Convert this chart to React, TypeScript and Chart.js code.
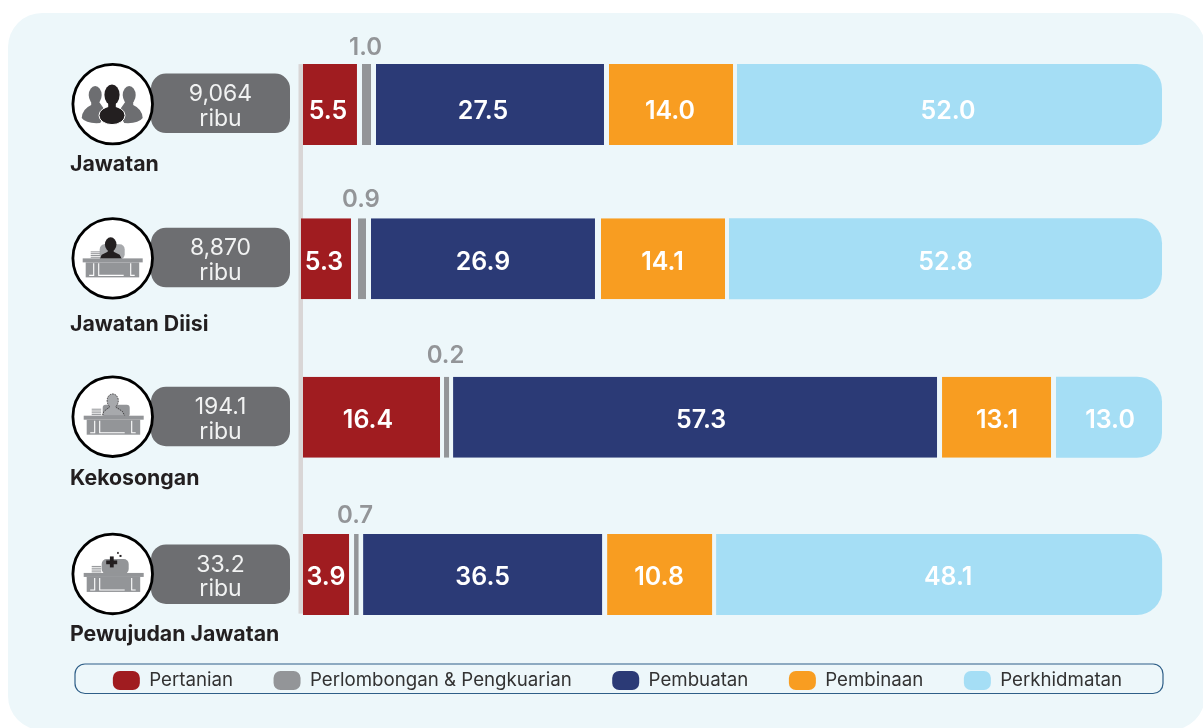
import React, { useEffect, useRef } from "react";
import { Chart, registerables } from "chart.js";

Chart.register(...registerables);

// Printed values, as labelled in the picture.
const rowNames = ["Jawatan", "Jawatan Diisi", "Kekosongan", "Pewujudan Jawatan"];
const rowTotals = ["9,064", "8,870", "194.1", "33.2"];
const rowUnit = "ribu";
const pertanian = ["5.5", "5.3", "16.4", "3.9"];
const perlombongan = ["1.0", "0.9", "0.2", "0.7"];
const pembuatan = ["27.5", "26.9", "57.3", "36.5"];
const pembinaan = ["14.0", "14.1", "13.1", "10.8"];
const perkhidmatan = ["52.0", "52.8", "13.0", "48.1"];

// Segment lengths as drawn in the picture (share of the track, %): the source
// graphic is not strictly proportional to its printed values, so these are
// read off the bars themselves.
const pertanianDrawn = [7.08, 6.62, 16.61, 6.16];
const perlombonganDrawn = [1.63, 1.51, 1.05, 1.05];
const pembuatanDrawn = [27.06, 26.71, 56.79, 28.34];
const pembinaanDrawn = [14.87, 14.87, 13.24, 12.66];
const perkhidmatanDrawn = [49.36, 50.29, 12.31, 51.8];

const seriesNames = ["Pertanian", "Perlombongan & Pengkuarian", "Pembuatan", "Pembinaan", "Perkhidmatan"];
const seriesColors = ["#a01c20", "#939598", "#2b3a76", "#f89d21", "#a5def5"];

// Row slots on the linear row axis (the rows are not quite evenly spaced).
const rowSlots = [0, 0.985, 1.996, 3];

// Styling tables (px).
const rowIndent = [2, 0, 2, 2];
const segmentGaps = [
  [5, 7, 4, 5],
  [5, 5, 4, 5],
  [5, 6, 5, 5],
  [4, 4, 5, 4],
  [0, 0, 0, 0],
];
const labelNudge = [
  [-2, -2, -3.5, 0],
  [0, 0, 0, 0],
  [-7, 0, 6, 0],
  [-1, -0.5, 0.5, -0.5],
  [-1.5, 0, 1, 9],
];
const labelDrop = [7, 3.5, 3, 3];
const overBarLift = [57, 59.5, 61, 58.5];
const nameDrop = [60, 66, 61.5, 60.5];
const pillDrop = [0, 0, 0.5, 1];

const FONT = "Inter, 'Noto Sans', sans-serif";
const PANEL = "#edf7fa";
const INK = "#231f20";
const PILL = "#6d6e71";
const GREY = "#939598";

type Ctx = CanvasRenderingContext2D;

function sideFigure(c: Ctx, x: number, y: number, dir: number) {
  c.fillStyle = PILL;
  c.beginPath();
  c.ellipse(x + dir * 17, y - 9, 6.5, 9, 0, 0, Math.PI * 2);
  c.fill();
  c.beginPath();
  c.moveTo(x + dir * 21, y - 3);
  c.lineTo(x + dir * 21, y + 1);
  c.quadraticCurveTo(x + dir * 30, y + 5, x + dir * 30.5, y + 14);
  c.quadraticCurveTo(x + dir * 26, y + 20, x + dir * 12, y + 19);
  c.lineTo(x + dir * 6, y + 8);
  c.lineTo(x + dir * 13, y - 2);
  c.closePath();
  c.fill();
}

function seated(c: Ctx, x: number, y: number, color: string) {
  c.fillStyle = color;
  c.beginPath();
  c.ellipse(x, y - 14, 5.8, 7, 0, 0, Math.PI * 2);
  c.fill();
  c.beginPath();
  c.moveTo(x - 3, y - 9);
  c.lineTo(x - 3, y - 6.5);
  c.lineTo(x - 9, y - 3.5);
  c.lineTo(x - 11, y + 0.5);
  c.lineTo(x + 11, y + 0.5);
  c.lineTo(x + 9, y - 3.5);
  c.lineTo(x + 3, y - 6.5);
  c.lineTo(x + 3, y - 9);
  c.closePath();
  c.fill();
}

function desk(c: Ctx, x: number, y: number) {
  c.fillStyle = GREY;
  c.fillRect(x - 30, y, 60, 4);
  c.fillRect(x - 27, y + 4, 53.5, 15);
  c.strokeStyle = "#ffffff";
  c.lineWidth = 1.1;
  c.beginPath();
  c.moveTo(x - 19, y + 5);
  c.lineTo(x - 19, y + 17);
  c.lineTo(x - 23.5, y + 17);
  c.moveTo(x - 14, y + 5);
  c.lineTo(x - 14, y + 17);
  c.lineTo(x + 11, y + 17);
  c.moveTo(x + 18, y + 5);
  c.lineTo(x + 18, y + 17);
  c.lineTo(x + 22, y + 17);
  c.stroke();
  c.fillStyle = GREY;
  for (let i = 0; i < 4; i++) c.fillRect(x - 22, y - 7 + i * 1.8, 9.5, 1);
}

function drawIcon(c: Ctx, row: number, x: number, y: number) {
  c.save();
  c.fillStyle = "#ffffff";
  c.strokeStyle = "#000000";
  c.lineWidth = 2.8;
  c.beginPath();
  c.arc(x, y, 39.8, 0, Math.PI * 2);
  c.fill();
  c.stroke();
  if (row === 0) {
    sideFigure(c, x - 0.5, y, -1);
    sideFigure(c, x - 0.5, y, 1);
    c.strokeStyle = "#ffffff";
    c.lineWidth = 1;
    c.fillStyle = INK;
    c.beginPath();
    c.ellipse(x - 0.7, y + 11.3, 13, 9.2, 0, 0, Math.PI * 2);
    c.fill();
    c.stroke();
    c.beginPath();
    c.ellipse(x - 0.7, y - 9.3, 7.6, 10.4, 0, 0, Math.PI * 2);
    c.fill();
    c.fillRect(x - 4.5, y - 1, 7.6, 6);
  } else if (row === 1) {
    c.fillStyle = "#a7a9ac";
    c.beginPath();
    c.roundRect(x - 13, y - 14, 25, 15, 5);
    c.fill();
    seated(c, x - 2, y, INK);
    desk(c, x, y);
  } else if (row === 2) {
    c.fillStyle = GREY;
    c.beginPath();
    c.roundRect(x - 10, y - 12, 27, 12, 3);
    c.fill();
    seated(c, x, y - 2, "#a7a9ac");
    c.strokeStyle = INK;
    c.lineWidth = 0.7;
    c.setLineDash([1.5, 1]);
    c.beginPath();
    c.ellipse(x, y - 16, 5.6, 6.8, 0, Math.PI * 0.7, Math.PI * 2.3);
    c.moveTo(x - 3, y - 10);
    c.lineTo(x - 9, y - 5);
    c.lineTo(x - 10, y - 1);
    c.moveTo(x + 3, y - 10);
    c.lineTo(x + 10, y - 5);
    c.lineTo(x + 12, y - 1);
    c.stroke();
    c.setLineDash([]);
    desk(c, x + 1, y - 1);
  } else {
    c.fillStyle = GREY;
    c.beginPath();
    c.roundRect(x - 11, y - 15, 27, 15, 5);
    c.fill();
    c.fillStyle = INK;
    c.fillRect(x - 2.8, y - 17.5, 3.8, 11);
    c.fillRect(x - 6.5, y - 13.5, 11, 3.8);
    c.fillRect(x + 4.5, y - 22, 1.5, 2);
    c.fillRect(x + 6.8, y - 19, 2, 2);
    desk(c, x + 1, y - 1);
  }
  c.restore();
}

const chromePlugin = {
  id: "chrome",
  beforeDatasetsDraw(chart: any) {
    const c: Ctx = chart.ctx;
    const xs = chart.scales.x;
    const ys = chart.scales.y;
    const zero = xs.getPixelForValue(0);
    c.save();
    c.fillStyle = "#d9d6d6";
    c.fillRect(zero - 2.5, ys.getPixelForValue(rowSlots[0]) - 40.5, 4.5, 549.5);

    // Legend frame
    c.strokeStyle = "#2f5f88";
    c.lineWidth = 1.2;
    c.beginPath();
    c.roundRect(75, 664, 1088, 29.5, 10);
    c.stroke();

    rowNames.forEach((name, i) => {
      const cy = ys.getPixelForValue(rowSlots[i]);
      // Pill
      c.fillStyle = PILL;
      c.beginPath();
      c.roundRect(151, cy - 31 + pillDrop[i], 139, 59.5, 15);
      c.fill();
      drawIcon(c, i, 112.7, cy - 0.5);
      c.fillStyle = "#f1f2f2";
      c.textAlign = "center";
      c.textBaseline = "middle";
      c.font = `400 23px ${FONT}`;
      c.fillText(rowTotals[i], 220.5, cy - 10.5 + pillDrop[i]);
      c.fillText(rowUnit, 220.5, cy + 14 + pillDrop[i]);
      // Row name
      c.fillStyle = INK;
      c.textAlign = "left";
      c.font = `700 21.3px ${FONT}`;
      c.fillText(name, 70, cy + nameDrop[i]);
    });
    c.restore();
  },
  afterDatasetsDraw(chart: any) {
    const c: Ctx = chart.ctx;
    const printed = [pertanian, perlombongan, pembuatan, pembinaan, perkhidmatan];
    c.save();
    c.textAlign = "center";
    c.textBaseline = "middle";
    printed.forEach((values, s) => {
      chart.getDatasetMeta(s).data.forEach((bar: any, i: number) => {
        const left = bar.base + (s === 0 ? rowIndent[i] : 0);
        const right = bar.x - segmentGaps[s][i];
        const mid = (left + right) / 2 + labelNudge[s][i];
        if (s === 1) {
          c.fillStyle = GREY;
          c.font = `600 24px ${FONT}`;
          c.fillText(values[i], mid - 1, bar.y - overBarLift[i]);
        } else {
          c.fillStyle = "#ffffff";
          c.font = `600 25px ${FONT}`;
          c.fillText(values[i], mid, bar.y + labelDrop[i]);
        }
      });
    });
    c.restore();
  },
};

const drawnSeries = [pertanianDrawn, perlombonganDrawn, pembuatanDrawn, pembinaanDrawn, perkhidmatanDrawn];

export default function App() {
  const ref = useRef<HTMLCanvasElement | null>(null);

  useEffect(() => {
    if (!ref.current) return;
    const chart = new Chart(ref.current, {
      type: "bar",
      data: {
        datasets: drawnSeries.map((lengths, s) => ({
          label: seriesNames[s],
          backgroundColor: seriesColors[s],
          borderColor: "rgba(0,0,0,0)",
          borderSkipped: false,
          inflateAmount: 0,
          barThickness: 81,
          borderWidth: (ctx: any) => ({
            right: segmentGaps[s][ctx.dataIndex] ?? 0,
            left: s === 0 ? rowIndent[ctx.dataIndex] ?? 0 : 0,
          }),
          borderRadius: s === 4 ? { topRight: 25, bottomRight: 25, topLeft: 0, bottomLeft: 0 } : 0,
          data: lengths.map((v, i) => ({ x: v, y: rowSlots[i] })),
        })),
      },
      options: {
        indexAxis: "y",
        animation: false,
        responsive: false,
        maintainAspectRatio: false,
        layout: { padding: { left: 32, top: 0, right: 0, bottom: 28 } },
        scales: {
          x: { type: "linear", stacked: true, display: false, min: 0, max: 104.76 },
          y: {
            type: "linear",
            stacked: true,
            reverse: true,
            offset: false,
            display: false,
            min: -0.668,
            max: 3.358,
            afterFit: (scale: any) => {
              scale.width = 269;
            },
          },
        },
        plugins: {
          tooltip: { enabled: false },
          legend: {
            position: "bottom",
            labels: {
              boxWidth: 27,
              boxHeight: 19,
              padding: 40.5,
              color: "#333333",
              useBorderRadius: true,
              borderRadius: 7,
              font: { family: FONT, size: 18.7, weight: "400" },
              generateLabels: (c: any) =>
                c.data.datasets.map((d: any, i: number) => ({
                  text: d.label,
                  fillStyle: d.backgroundColor,
                  strokeStyle: "rgba(0,0,0,0)",
                  lineWidth: 0,
                  hidden: false,
                  datasetIndex: i,
                  borderRadius: 7,
                  fontColor: "#333333",
                })),
            },
          },
        },
      } as any,
      plugins: [chromePlugin],
    } as any);
    return () => chart.destroy();
  }, []);

  return (
    <div style={{ position: "fixed", left: 0, top: 0, width: 1203, height: 728, background: "#ffffff", overflow: "hidden" }}>
      <div style={{ position: "absolute", left: 8, top: 13, width: 1197, height: 717, borderRadius: 34, background: PANEL }} />
      <canvas ref={ref} width={1203} height={728} style={{ position: "absolute", left: 0, top: 0, display: "block" }} />
    </div>
  );
}
